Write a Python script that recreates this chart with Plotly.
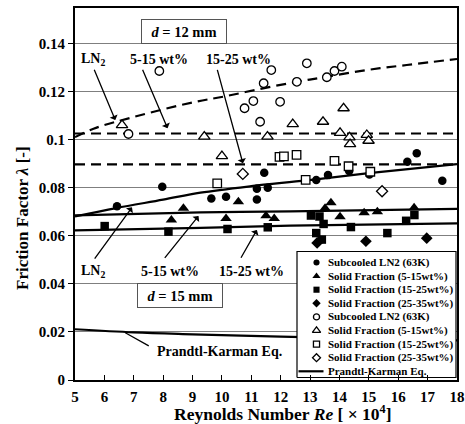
import plotly.graph_objects as go

FONT = "Liberation Serif"

# ---------------- data ----------------
# d = 15 mm (filled symbols)
re_ln2_f = [6.43, 7.97, 9.64, 10.14, 11.19, 11.56, 11.19, 11.44, 13.21, 13.61, 14.33, 15.02, 16.31, 16.63, 17.50]
lam_ln2_f = [0.0723, 0.0804, 0.0755, 0.0762, 0.0795, 0.0800, 0.0751, 0.0862, 0.0832, 0.0852, 0.0869, 0.0855, 0.0908, 0.0943, 0.0829]

re_s515_f = [8.28, 8.69, 10.14, 10.56, 11.50, 11.78, 13.51, 13.71, 14.02, 14.84, 15.29, 16.54]
lam_s515_f = [0.0665, 0.0714, 0.0672, 0.0741, 0.0683, 0.0672, 0.0714, 0.0737, 0.0679, 0.0696, 0.0700, 0.0716]

re_s1525_f = [6.01, 8.18, 10.19, 11.56, 13.03, 13.32, 13.46, 13.21, 13.40, 14.39, 15.63, 16.27, 16.55]
lam_s1525_f = [0.0640, 0.0617, 0.0628, 0.0635, 0.0684, 0.0680, 0.0649, 0.0611, 0.0584, 0.0636, 0.0611, 0.0662, 0.0686]

re_s2535_f = [13.24, 14.90, 16.97]
lam_s2535_f = [0.0570, 0.0577, 0.0590]

# d = 12 mm (open symbols)
re_ln2_o = [6.82, 7.87, 10.77, 11.07, 11.30, 11.42, 11.68, 11.98, 12.55, 12.89, 13.57, 13.83, 14.08]
lam_ln2_o = [0.1023, 0.1285, 0.1130, 0.1160, 0.1074, 0.1234, 0.1289, 0.1157, 0.1240, 0.1317, 0.1259, 0.1285, 0.1303]

re_s515_o = [6.60, 9.40, 10.00, 11.55, 12.41, 13.44, 14.14, 14.02, 14.34, 14.36, 14.93, 14.99]
lam_s515_o = [0.1060, 0.1012, 0.0931, 0.1012, 0.1064, 0.1074, 0.1130, 0.1028, 0.1009, 0.0981, 0.1019, 0.0995]

re_s1525_o = [9.84, 11.96, 12.11, 12.54, 12.85, 13.83, 14.31, 15.05]
lam_s1525_o = [0.0818, 0.0928, 0.0930, 0.0936, 0.0832, 0.0911, 0.0889, 0.0866]

re_s2535_o = [10.71, 15.45]
lam_s2535_o = [0.0857, 0.0785]

# fitted curves
re_fit_ln2_12 = [5, 5.63, 7.0, 9.03, 10.12, 11.4, 12.55, 13.57, 14.93, 16.29, 18]
lam_fit_ln2_12 = [0.1010, 0.1045, 0.1094, 0.1155, 0.1180, 0.1213, 0.1240, 0.1261, 0.1289, 0.1310, 0.1335]
re_fit_s515_12 = [5, 18]
lam_fit_s515_12 = [0.1025, 0.1025]
re_fit_s1525_12 = [5, 18]
lam_fit_s1525_12 = [0.0897, 0.0897]

re_fit_ln2_15 = [5, 6.4, 8, 9.27, 11, 12.87, 15, 18]
lam_fit_ln2_15 = [0.0680, 0.0715, 0.0750, 0.0779, 0.0806, 0.0830, 0.0860, 0.0898]
re_fit_s515_15 = [5, 9.27, 12.33, 18]
lam_fit_s515_15 = [0.0685, 0.0697, 0.0701, 0.0712]
re_fit_s1525_15 = [5, 9.27, 12.33, 18]
lam_fit_s1525_15 = [0.0622, 0.0633, 0.0642, 0.0651]

re_pk = [5, 7, 9, 12, 15, 18]
lam_pk = [0.0211, 0.0198, 0.0190, 0.0180, 0.0172, 0.0165]

x_ticks = [5, 6, 7, 8, 9, 10, 11, 12, 13, 14, 15, 16, 17, 18]
y_ticks = [0, 0.02, 0.04, 0.06, 0.08, 0.10, 0.12, 0.14]
y_tick_text = ["0", "0.02", "0.04", "0.06", "0.08", "0.1", "0.12", "0.14"]

legend_labels = ["Subcooled LN2 (63K)", "Solid Fraction (5-15wt%)", "Solid Fraction (15-25wt%)",
                 "Solid Fraction (25-35wt%)", "Subcooled LN2 (63K)", "Solid Fraction (5-15wt%)",
                 "Solid Fraction (15-25wt%)", "Solid Fraction (25-35wt%)", "Prandtl-Karman Eq."]

# ---------------- figure ----------------
fig = go.Figure()

def line(x, y, dash="solid", shape="spline"):
    fig.add_trace(go.Scatter(x=x, y=y, mode="lines", showlegend=False,
                             line=dict(color="black", width=2.2, dash=dash, shape=shape),
                             hoverinfo="skip"))

DASH = "10px,6px"
line(re_fit_ln2_12, lam_fit_ln2_12, DASH)
line(re_fit_s515_12, lam_fit_s515_12, DASH, shape="linear")
line(re_fit_s1525_12, lam_fit_s1525_12, DASH, shape="linear")
line(re_fit_ln2_15, lam_fit_ln2_15)
line(re_fit_s515_15, lam_fit_s515_15)
line(re_fit_s1525_15, lam_fit_s1525_15)
line(re_pk, lam_pk)

STYLES = [("circle", True, 8.5), ("triangle-up", True, 10), ("square", True, 8.5), ("diamond", True, 9),
          ("circle", False, 8.5), ("triangle-up", False, 10), ("square", False, 8.5), ("diamond", False, 8.5)]

def marker(symbol, filled, size):
    if filled:
        return dict(symbol=symbol, size=size, color="black", line=dict(width=0))
    return dict(symbol=symbol, size=size, color="white", line=dict(width=1.3, color="black"))

series = [(re_ln2_f, lam_ln2_f), (re_s515_f, lam_s515_f), (re_s1525_f, lam_s1525_f), (re_s2535_f, lam_s2535_f),
          (re_ln2_o, lam_ln2_o), (re_s515_o, lam_s515_o), (re_s1525_o, lam_s1525_o), (re_s2535_o, lam_s2535_o)]
for (xs, ys), (sym, filled, size), name in zip(series, STYLES, legend_labels):
    fig.add_trace(go.Scatter(x=xs, y=ys, mode="markers", name=name, showlegend=False,
                             marker=marker(sym, filled, size)))

# ---------------- hand-built compact legend (overlay axes in paper units) ----------------
L, R, T, B = 75.0, 457.0, 8.0, 380.0
def px(xp): return (xp - L) / (R - L)
def py(yp): return (B - yp) / (B - T)

box_x0, box_x1, box_y0, box_y1 = px(297), px(456), py(377.5), py(251.5)
fig.add_trace(go.Scatter(x=[box_x0, box_x1, box_x1, box_x0, box_x0],
                         y=[box_y0, box_y0, box_y1, box_y1, box_y0],
                         mode="lines", fill="toself", fillcolor="white",
                         line=dict(color="black", width=1.2), showlegend=False, hoverinfo="skip",
                         xaxis="x2", yaxis="y2"))
row_y = [py(262.5 + i * 13.6) for i in range(len(legend_labels))]
for i, (sym, filled, size) in enumerate(STYLES):
    fig.add_trace(go.Scatter(x=[px(316.5)], y=[row_y[i]], mode="markers", showlegend=False,
                             hoverinfo="skip", marker=marker(sym, filled, size * 0.72),
                             xaxis="x2", yaxis="y2"))
fig.add_trace(go.Scatter(x=[px(298.5), px(323.5)], y=[row_y[8], row_y[8]], mode="lines",
                         line=dict(color="black", width=2.2), showlegend=False, hoverinfo="skip",
                         xaxis="x2", yaxis="y2"))

# ---------------- annotations ----------------
ann = []

def label(x, y, text, size=14):
    ann.append(dict(x=x, y=y, xref="x", yref="y", text=text, showarrow=False,
                    font=dict(family=FONT, size=size, color="black", weight="bold")))

def arrow(x0, y0, x1, y1, head=1):
    ann.append(dict(x=x1, y=y1, ax=x0, ay=y0, xref="x", yref="y", axref="x", ayref="y",
                    text="", showarrow=True, arrowhead=head, arrowsize=1.1,
                    arrowwidth=1.3, arrowcolor="black"))

label(5.62, 0.1331, "LN<sub>2</sub>")
label(7.87, 0.1331, "5-15 wt%")
label(10.55, 0.1331, "15-25 wt%")
label(5.62, 0.0451, "LN<sub>2</sub>")
label(8.22, 0.0451, "5-15 wt%")
label(11.01, 0.0451, "15-25 wt%")
label(9.91, 0.0118, "Prandtl-Karman Eq.")

arrow(5.634, 0.1296, 6.371, 0.1081)
arrow(7.279, 0.1296, 8.150, 0.1047)
arrow(9.830, 0.1296, 10.714, 0.0901)
arrow(5.633, 0.0499, 6.939, 0.0718)
arrow(8.014, 0.0502, 9.204, 0.0682)
arrow(10.62, 0.0502, 11.19, 0.0624)
arrow(7.561, 0.01385, 6.711, 0.01967, head=0)

for xc, yc, txt in [(8.72, 0.1449, "<i>d</i> = 12 mm"), (8.565, 0.0353, "<i>d</i> = 15 mm")]:
    ann.append(dict(x=xc, y=yc, xref="x", yref="y", text=txt, showarrow=False,
                    font=dict(family=FONT, size=14.5, color="black", weight="bold"),
                    bgcolor="white", bordercolor="#555555", borderwidth=1, borderpad=3,
                    width=78, height=17))

for i, txt in enumerate(legend_labels):
    ann.append(dict(x=px(325.5), y=row_y[i], xref="paper", yref="paper", text=txt,
                    showarrow=False, xanchor="left", yanchor="middle",
                    font=dict(family=FONT, size=11, color="black", weight="bold")))

# axis titles
ann.append(dict(x=px(283), y=py(412.5), xref="paper", yref="paper", showarrow=False,
                text="Reynolds Number <i>Re</i> [ \u00d7 10<sup>4</sup>]",
                font=dict(family=FONT, size=17.5, color="black", weight="bold"),
                xanchor="center", yanchor="middle"))
ann.append(dict(x=px(23), y=py(218), xref="paper", yref="paper", showarrow=False,
                text="Friction Factor <i>\u03bb</i> [-]", textangle=-90,
                font=dict(family=FONT, size=17, color="black", weight="bold"),
                xanchor="center", yanchor="middle"))

fig.update_layout(
    width=465, height=424,
    margin=dict(l=75, r=8, t=8, b=44, autoexpand=False),
    paper_bgcolor="white", plot_bgcolor="white",
    font=dict(family=FONT, color="black"),
    annotations=ann,
    showlegend=False,
    xaxis=dict(range=[5, 18], tickvals=x_ticks, ticks="inside", ticklen=5, tickwidth=1.3,
               tickcolor="black", showgrid=False, zeroline=False,
               showline=True, linecolor="black", linewidth=2, mirror=True,
               ticklabelstandoff=2,
               tickfont=dict(family=FONT, size=15, color="black", weight="bold")),
    yaxis=dict(range=[0, 0.1547], tickvals=y_ticks, ticktext=y_tick_text, ticks="outside",
               ticklen=5, tickwidth=1.3, tickcolor="black",
               showgrid=True, gridcolor="#7f7f7f", gridwidth=1, zeroline=False,
               showline=True, linecolor="black", linewidth=2, mirror=True,
               tickfont=dict(family=FONT, size=15, color="black", weight="bold")),
    xaxis2=dict(overlaying="x", anchor="y2", range=[0, 1], visible=False),
    yaxis2=dict(overlaying="y", anchor="x2", range=[0, 1], visible=False),
)

fig.write_html("out.html")
